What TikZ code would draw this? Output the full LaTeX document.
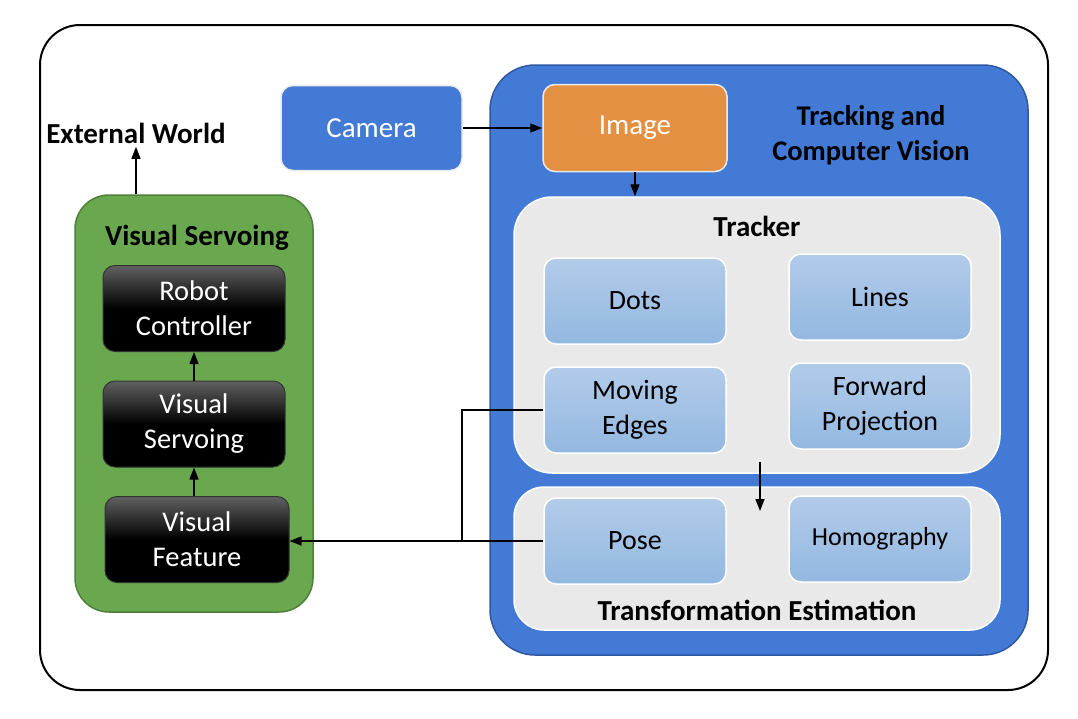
\documentclass[tikz,border=0pt]{standalone}
\usepackage{fontspec}
\setmainfont{Carlito}
\usetikzlibrary{arrows.meta}
\definecolor{cvblue}{RGB}{66,122,213}
\definecolor{cvblueD}{RGB}{47,88,160}
\definecolor{orng}{RGB}{228,144,66}
\definecolor{vsgreen}{RGB}{106,168,80}
\definecolor{vsgreenD}{RGB}{78,128,58}
\definecolor{panel}{RGB}{233,233,233}
\definecolor{ltop}{RGB}{178,203,233}
\definecolor{lbot}{RGB}{147,184,225}
\tikzset{
  fs/.style 2 args={font=\fontsize{#1}{#2}\selectfont},
  fsb/.style 2 args={font=\bfseries\fontsize{#1}{#2}\selectfont},
  lbox/.style={rectangle, rounded corners=12pt, minimum width=182pt, minimum height=86pt,
    top color=ltop, bottom color=lbot, draw=white, line width=1.5pt, align=center, fs={28}{35}, text=black},
  blk/.style={rectangle, rounded corners=12pt, minimum height=86pt,
    top color=black!62, bottom color=black, middle color=black, draw=black!80, line width=1pt,
    align=center, fs={28.5}{35}, text=white},
  cont/.style={rectangle, line width=1.5pt},
  arr/.style={line width=1.4pt, -{Triangle[length=12pt,width=9pt]}},
  ln/.style={line width=1.4pt},
}
\begin{document}
\begin{tikzpicture}[x=1pt,y=-1pt]
\useasboundingbox (0,0) rectangle (1078,718);
% outer frame
\node[cont, draw=black, line width=2pt, rounded corners=40pt, minimum width=1008pt, minimum height=665pt] (outer) at (544,357.5) {};
% green container
\node[cont, fill=vsgreen, draw=vsgreenD, rounded corners=34pt, minimum width=238pt, minimum height=417pt] (vsbox) at (194,403.5) {};
\node[fsb={29}{30}] (vstitle) at (197,238) {Visual Servoing};
\node[blk, minimum width=182pt] (rc) at (194,308.5) {Robot\\Controller};
\node[blk, minimum width=182pt] (vs) at (194,424) {Visual\\Servoing};
\node[blk, minimum width=184pt] (vf) at (197,539.5) {Visual\\Feature};
% external world
\node[fsb={29}{30}] (ew) at (136,133) {External World};
% blue container
\node[cont, fill=cvblue, draw=cvblueD, rounded corners=45pt, minimum width=538pt, minimum height=590pt] (cv) at (759,360) {};
\node[fsb={28.5}{35}, align=center] (cvtitle) at (871,135) {Tracking and\\Computer Vision};
% camera and image
\node[rectangle, rounded corners=12pt, minimum width=181pt, minimum height=85pt, fill=cvblue, draw=black!8, line width=1.5pt, fs={29}{32}, text=white] (cam) at (371.5,128) {Camera};
\node[rectangle, rounded corners=12pt, minimum width=184pt, minimum height=87pt, fill=orng, draw=black!8, line width=1.5pt, fs={29}{32}, text=white] (img) at (635,128) {Image};
% tracker panel
\node[cont, fill=panel, draw=white, rounded corners=38pt, minimum width=486pt, minimum height=276pt] (trk) at (757,335) {};
\node[fsb={29}{30}] (trktitle) at (757,226) {Tracker};
\node[lbox] (dots) at (635,301) {Dots};
\node[lbox] (lines) at (880,297) {Lines};
\node[lbox] (me) at (635,410) {Moving\\Edges};
\node[lbox] (fp) at (880,406) {Forward\\Projection};
% transformation panel
\node[cont, fill=panel, draw=white, rounded corners=30pt, minimum width=486pt, minimum height=143pt] (te) at (757,558.5) {};
\node[lbox] (pose) at (635,541) {Pose};
\node[lbox, fs={26}{30}] (hom) at (880,539) {Homography};
\node[fsb={29}{30}] (tetitle) at (757,610) {Transformation Estimation};
% connectors
\draw[arr] (ew.south |- vsbox.north) -- (ew.south);
\draw[arr] (vf.north -| vs.south) -- (vs.south);
\draw[arr] (vs.north) -- (rc.south);
\draw[arr] (cam.east) -- (img.west);
\draw[arr] (img.south) -- (img.south |- trk.north);
\coordinate (a1) at (760,462);
\coordinate (a2) at (760,511);
\draw[arr] (a1) -- (a2);
\coordinate (j) at (462,541);
\draw[ln] (me.west) -| (j);
\draw[arr] (pose.west) -- (vf.east |- pose.west);
\end{tikzpicture}
\end{document}
